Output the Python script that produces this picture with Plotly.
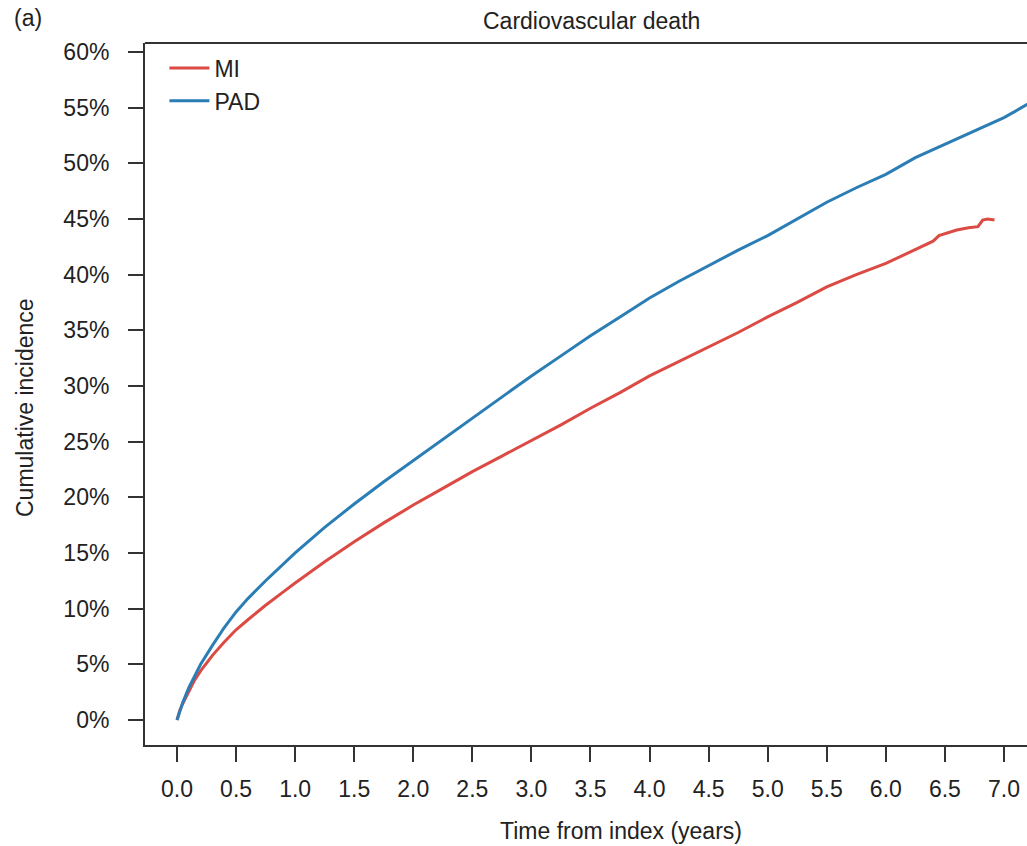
import plotly.graph_objects as go

# ---- data ----
time_pad = [0, 0.025, 0.05, 0.1, 0.15, 0.2, 0.3, 0.4, 0.5, 0.6, 0.75, 0.9, 1.0, 1.25,
            1.5, 1.75, 2.0, 2.25, 2.5, 2.75, 3.0, 3.25, 3.5, 3.75, 4.0, 4.25, 4.5,
            4.75, 5.0, 5.25, 5.5, 5.75, 6.0, 6.25, 6.5, 6.75, 7.0, 7.25]
pad_pct = [0, 0.9, 1.6, 2.9, 4.0, 5.0, 6.7, 8.3, 9.7, 10.9, 12.5, 14.0, 15.0, 17.3,
           19.4, 21.4, 23.3, 25.2, 27.1, 29.0, 30.9, 32.7, 34.5, 36.2, 37.9, 39.4, 40.8,
           42.2, 43.5, 45.0, 46.5, 47.8, 49.0, 50.5, 51.7, 52.9, 54.1, 55.6]

time_mi = [0, 0.025, 0.05, 0.1, 0.15, 0.2, 0.3, 0.4, 0.5, 0.6, 0.75, 0.9, 1.0, 1.25,
           1.5, 1.75, 2.0, 2.25, 2.5, 2.75, 3.0, 3.25, 3.5, 3.75, 4.0, 4.25, 4.5,
           4.75, 5.0, 5.25, 5.5, 5.75, 6.0, 6.2, 6.4, 6.45, 6.6, 6.7, 6.78, 6.82,
           6.86, 6.92]
mi_pct = [0, 0.9, 1.5, 2.6, 3.6, 4.4, 5.8, 7.0, 8.1, 9.0, 10.3, 11.5, 12.3, 14.2,
          16.0, 17.7, 19.3, 20.8, 22.3, 23.7, 25.1, 26.5, 28.0, 29.4, 30.9, 32.2, 33.5,
          34.8, 36.2, 37.5, 38.9, 40.0, 41.0, 42.0, 43.0, 43.5, 44.0, 44.2, 44.3, 44.9,
          45.0, 44.9]

x_ticks = [0.0, 0.5, 1.0, 1.5, 2.0, 2.5, 3.0, 3.5, 4.0, 4.5, 5.0, 5.5, 6.0, 6.5, 7.0]
x_tick_labels = [f"{v:.1f}" for v in x_ticks]
y_ticks = [0, 5, 10, 15, 20, 25, 30, 35, 40, 45, 50, 55, 60]
y_tick_labels = [f"{v}%" for v in y_ticks]

series_names = ["MI", "PAD"]
series_colors = ["#DC4A44", "#2A7DB5"]

FONT = "Liberation Sans, Arial, Helvetica, sans-serif"
TXT = "#222222"
AX = "#333333"
FS = 23

fig = go.Figure()
fig.add_trace(go.Scatter(x=time_mi, y=mi_pct, mode="lines", name=series_names[0],
                         line=dict(color=series_colors[0], width=3)))
fig.add_trace(go.Scatter(x=time_pad, y=pad_pct, mode="lines", name=series_names[1],
                         line=dict(color=series_colors[1], width=3)))

fig.update_layout(
    width=1027, height=846,
    margin=dict(l=145, r=0, t=43, b=101),
    paper_bgcolor="white", plot_bgcolor="white",
    font=dict(family=FONT, size=FS, color=TXT),
    showlegend=True,
    legend=dict(x=0.022, y=0.995, xanchor="left", yanchor="top",
                bgcolor="rgba(0,0,0,0)", borderwidth=0,
                font=dict(size=FS, color=TXT), tracegroupgap=0, itemwidth=40),
)

fig.update_xaxes(range=[-0.271, 7.195], tickmode="array", tickvals=x_ticks,
                 ticktext=x_tick_labels, ticks="outside", ticklen=15, tickwidth=2,
                 tickcolor=AX, showline=True, linecolor=AX, linewidth=2,
                 showgrid=False, zeroline=False, ticklabelstandoff=7,
                 tickfont=dict(size=FS, color=TXT, family=FONT))
fig.update_yaxes(range=[-2.25, 60.8], tickmode="array", tickvals=y_ticks,
                 ticktext=y_tick_labels, ticks="outside", ticklen=15, tickwidth=2,
                 tickcolor=AX, showline=True, linecolor=AX, linewidth=2,
                 showgrid=False, zeroline=False, ticklabelstandoff=14,
                 tickfont=dict(size=FS, color=TXT, family=FONT))

# top frame line
fig.add_shape(type="line", xref="paper", yref="paper", x0=0, x1=1, y0=1, y1=1,
              line=dict(color=AX, width=2))

# titles
fig.add_annotation(text="Cardiovascular death", xref="paper", yref="paper",
                   x=(591 - 145) / 882, y=1, yshift=22, showarrow=False,
                   xanchor="center", yanchor="middle", font=dict(size=FS, color=TXT))
fig.add_annotation(text="(a)", xref="paper", yref="paper", x=(12 - 145) / 882,
                   y=1, yshift=25, showarrow=False, xanchor="left", yanchor="middle",
                   font=dict(size=FS, color=TXT))
fig.add_annotation(text="Time from index (years)", xref="paper", yref="paper",
                   x=(621 - 145) / 882, y=0, yshift=-86, showarrow=False,
                   xanchor="center", yanchor="middle", font=dict(size=FS, color=TXT))
fig.add_annotation(text="Cumulative incidence", xref="paper", yref="paper",
                   x=(25 - 145) / 882, y=(745 - 407) / 702, showarrow=False,
                   textangle=-90, xanchor="center", yanchor="middle",
                   font=dict(size=FS, color=TXT))

fig.write_html("out.html")
